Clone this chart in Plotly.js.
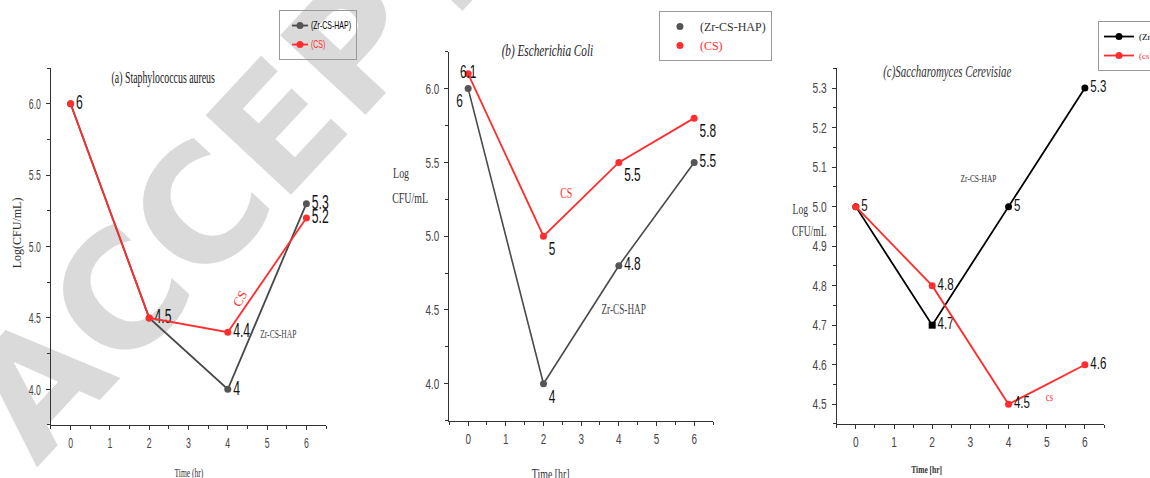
<!DOCTYPE html>
<html>
<head>
<meta charset="utf-8">
<script src="https://cdn.plot.ly/plotly-3.0.1.min.js"></script>
<style>
  html, body { margin: 0; padding: 0; background: #fff; }
  #chart { width: 1150px; height: 478px; }
</style>
</head>
<body>
<div id="chart"></div>
<script>
// Sampling times (hours)
const timeHr = [0, 2, 4, 6];

// (a) Staphylococcus aureus, log CFU/mL
const staphZr = [6, 4.5, 4, 5.3];
const staphCs = [6, 4.5, 4.4, 5.2];

// (b) Escherichia coli, log CFU/mL
const coliZr = [6, 4, 4.8, 5.5];
const coliCs = [6.1, 5, 5.5, 5.8];

// (c) Saccharomyces cerevisiae, log CFU/mL
const yeastZr = [5, 4.7, 5, 5.3];
const yeastCs = [5, 4.8, 4.5, 4.6];

// Points that carry a value label (a shared starting point is labelled once)
const staphZrLabelled = [true, true, true, true];
const staphCsLabelled = [false, false, true, true];
const coliZrLabelled = [true, true, true, true];
const coliCsLabelled = [true, true, true, true];
const yeastZrLabelled = [true, true, true, true];
const yeastCsLabelled = [false, true, true, true];

// Axis ticks
const timeTicks = [0, 1, 2, 3, 4, 5, 6];
const staphTicks = [4.0, 4.5, 5.0, 5.5, 6.0];
const coliTicks = [4.0, 4.5, 5.0, 5.5, 6.0];
const yeastTicks = [4.5, 4.6, 4.7, 4.8, 4.9, 5.0, 5.1, 5.2, 5.3];

// Series names
const nameZr = '(Zr-CS-HAP)';
const nameCsUpper = '(CS)';
const nameCsLower = '(cs)';

const SANS = '"Liberation Sans", Arial, sans-serif';
const SERIF = '"Liberation Serif", "Times New Roman", serif';
const RED = '#ff2d2d';

const labelsFor = (vals, shown) => vals.map((v, i) => (shown[i] ? String(v) : ''));

function xAxis(domain, anchor) {
  return {
    domain: domain, anchor: anchor, range: [-0.5, 6.5],
    tickmode: 'array', tickvals: timeTicks, ticktext: timeTicks.map(String),
    ticks: 'outside', ticklen: 4, tickwidth: 1, tickcolor: '#333',
    showline: true, linecolor: '#333', linewidth: 1,
    showgrid: false, zeroline: false,
    minor: { dtick: 0.5, tick0: 0, ticks: 'outside', ticklen: 3, tickcolor: '#333', showgrid: false },
    tickfont: { family: SANS, size: 15, color: '#444' },
    fixedrange: true
  };
}

function yAxis(domain, anchor, range, ticks, minorStep) {
  return {
    domain: domain, anchor: anchor, range: range,
    tickmode: 'array', tickvals: ticks, ticktext: ticks.map(v => v.toFixed(1)),
    ticks: 'outside', ticklen: 4, tickwidth: 1, tickcolor: '#333',
    showline: true, linecolor: '#333', linewidth: 1,
    showgrid: false, zeroline: false,
    minor: { dtick: minorStep, tick0: 0, ticks: 'outside', ticklen: 3, tickcolor: '#333', showgrid: false },
    tickfont: { family: SANS, size: 15, color: '#444' },
    ticklabelstandoff: 2,
    fixedrange: true
  };
}

const traces = [
  // ---- panel (a)
  {
    x: timeHr, y: staphZr, xaxis: 'x', yaxis: 'y', name: nameZr, legend: 'legend',
    mode: 'lines+markers+text', text: labelsFor(staphZr, staphZrLabelled), cliponaxis: false,
    textposition: 'middle right', textfont: { family: SANS, size: 21, color: '#111' },
    line: { color: '#484848', width: 1.8 }, marker: { color: '#555', size: 7 }
  },
  {
    x: timeHr, y: staphCs, xaxis: 'x', yaxis: 'y', name: '<span style="color:' + RED + '">' + nameCsUpper + '</span>', legend: 'legend',
    mode: 'lines+markers+text', text: labelsFor(staphCs, staphCsLabelled), cliponaxis: false,
    textposition: 'middle right', textfont: { family: SANS, size: 21, color: '#111' },
    line: { color: RED, width: 1.8 }, marker: { color: RED, size: 7 }
  },
  // ---- panel (b)
  {
    x: timeHr, y: coliZr, xaxis: 'x2', yaxis: 'y2', name: nameZr, showlegend: false,
    mode: 'lines+markers+text', text: labelsFor(coliZr, coliZrLabelled), cliponaxis: false,
    textposition: ['bottom left', 'bottom right', 'middle right', 'middle right'],
    textfont: { family: SANS, size: 18, color: '#111' },
    line: { color: '#4a4a4a', width: 1.6 }, marker: { color: '#555', size: 7 }
  },
  {
    x: timeHr, y: coliCs, xaxis: 'x2', yaxis: 'y2', name: nameCsUpper, showlegend: false,
    mode: 'lines+markers+text', text: labelsFor(coliCs, coliCsLabelled), cliponaxis: false,
    textposition: ['middle center', 'bottom right', 'bottom right', 'bottom right'],
    textfont: { family: SANS, size: 18, color: '#111' },
    line: { color: RED, width: 1.8 }, marker: { color: RED, size: 7 }
  },
  // legend entries for panel (b): symbol only
  {
    x: [null], y: [null], xaxis: 'x2', yaxis: 'y2', name: nameZr, legend: 'legend2',
    mode: 'markers', marker: { color: '#555', size: 7 }, hoverinfo: 'skip'
  },
  {
    x: [null], y: [null], xaxis: 'x2', yaxis: 'y2', name: '<span style="color:' + RED + '">' + nameCsUpper + '</span>', legend: 'legend2',
    mode: 'markers', marker: { color: RED, size: 7 }, hoverinfo: 'skip'
  },
  // ---- panel (c)
  {
    x: timeHr, y: yeastZr, xaxis: 'x3', yaxis: 'y3', name: nameZr, legend: 'legend3',
    mode: 'lines+markers+text', text: labelsFor(yeastZr, yeastZrLabelled), cliponaxis: false,
    textposition: 'middle right', textfont: { family: SANS, size: 17, color: '#111' },
    line: { color: '#000', width: 1.8 },
    marker: { color: '#000', size: 7, symbol: ['circle', 'square', 'circle', 'circle'] }
  },
  {
    x: timeHr, y: yeastCs, xaxis: 'x3', yaxis: 'y3', name: '<span style="color:' + RED + '">' + nameCsLower + '</span>', legend: 'legend3',
    mode: 'lines+markers+text', text: labelsFor(yeastCs, yeastCsLabelled), cliponaxis: false,
    textposition: 'middle right', textfont: { family: SANS, size: 17, color: '#111' },
    line: { color: RED, width: 1.8 }, marker: { color: RED, size: 7 }
  }
];

const legendBase = {
  xanchor: 'left', yanchor: 'top', bgcolor: 'rgba(255,255,255,0)',
  bordercolor: '#9a9a9a', borderwidth: 1, tracegroupgap: 0,
  itemclick: false, itemdoubleclick: false
};

const note = (text, x, y, xref, yref, font, extra) =>
  Object.assign({ text: text, x: x, y: y, xref: xref, yref: yref, showarrow: false,
                  xanchor: 'center', yanchor: 'middle', font: font }, extra || {});

const annotations = [
  // panel titles
  note('(a) Staphylococcus aureus', 0.1417, 0.837, 'paper', 'paper', { family: SERIF, size: 17, color: '#222' }),
  note('<i>(b) Escherichia Coli</i>', 0.4765, 0.895, 'paper', 'paper', { family: SERIF, size: 17, color: '#222' }),
  note('<i>(c)Saccharomyces Cerevisiae</i>', 0.8235, 0.849, 'paper', 'paper', { family: SERIF, size: 16, color: '#333' }),
  // axis titles
  note('Log(CFU/mL)', 0.0148, 0.512, 'paper', 'paper', { family: SERIF, size: 12, color: '#333' }, { textangle: -90 }),
  note('Time (hr)', 0.164, 0.011, 'paper', 'paper', { family: SERIF, size: 13, color: '#333' }),
  note('Log', 0.3493, 0.638, 'paper', 'paper', { family: SERIF, size: 15, color: '#333' }),
  note('CFU/mL', 0.3565, 0.586, 'paper', 'paper', { family: SERIF, size: 15, color: '#333' }),
  note('Time [hr]', 0.4783, 0.0084, 'paper', 'paper', { family: SERIF, size: 15, color: '#333' }),
  note('Log', 0.6959, 0.561, 'paper', 'paper', { family: SERIF, size: 14, color: '#333' }),
  note('CFU/mL', 0.7035, 0.515, 'paper', 'paper', { family: SERIF, size: 14, color: '#333' }),
  note('<b>Time [hr]</b>', 0.806, 0.019, 'paper', 'paper', { family: SERIF, size: 11, color: '#333' }),
  // series labels inside the plots
  note('CS', 4.31, 4.635, 'x', 'y', { family: SERIF, size: 13, color: RED }, { textangle: -62 }),
  note('Zr-CS-HAP', 5.28, 4.39, 'x', 'y', { family: SERIF, size: 13, color: '#444' }),
  note('CS', 2.61, 5.295, 'x2', 'y2', { family: SERIF, size: 15, color: RED }),
  note('Zr-CS-HAP', 4.15, 4.5, 'x2', 'y2', { family: SERIF, size: 14, color: '#444' }),
  note('Zr-CS-HAP', 3.2, 5.073, 'x3', 'y3', { family: SERIF, size: 11, color: '#333' }),
  note('cs', 5.06, 4.52, 'x3', 'y3', { family: SERIF, size: 13, color: RED })
];

// Faint diagonal "ACCEPTED" stamp drawn beneath the data
const stamp = {
  type: 'line', xref: 'paper', yref: 'paper', layer: 'below',
  x0: -0.0887, y0: -0.0858, x1: 0.6226, y1: 1.751,
  line: { color: 'rgba(0,0,0,0)', width: 0 },
  label: {
    text: 'ACCEPTED', textangle: 'auto', textposition: 'middle', yanchor: 'middle',
    font: { family: '"DejaVu Sans", sans-serif', size: 160, color: '#dadada', weight: 'bold' }
  }
};

const layout = {
  width: 1150, height: 478,
  margin: { l: 0, r: 0, t: 0, b: 0, autoexpand: false },
  paper_bgcolor: '#fff', plot_bgcolor: 'rgba(0,0,0,0)',
  showlegend: true,
  xaxis: xAxis([0.0443, 0.2835], 'y'),
  yaxis: yAxis([0.1109, 0.8577], 'x', [3.75, 6.25], staphTicks, 0.25),
  xaxis2: xAxis([0.3907, 0.62], 'y2'),
  yaxis2: yAxis([0.1199, 0.8918], 'x2', [3.75, 6.25], coliTicks, 0.25),
  xaxis3: xAxis([0.7276, 0.96], 'y3'),
  yaxis3: yAxis([0.113, 0.8571], 'x3', [4.45, 5.35], yeastTicks, 0.05),
  legend: Object.assign({}, legendBase, { x: 0.2426, y: 0.979, font: { family: SANS, size: 10, color: '#000' } }),
  legend2: Object.assign({}, legendBase, { x: 0.573, y: 0.977, font: { family: SERIF, size: 12, color: '#333' } }),
  legend3: Object.assign({}, legendBase, { x: 0.9548, y: 0.956, font: { family: SERIF, size: 9, color: '#000' } }),
  annotations: annotations,
  shapes: [stamp]
};

// Horizontal condensing of the upright chart texts (narrow figure lettering),
// each text keeps its anchor point; the factor differs slightly per panel.
function panelFactor(cx) {
  if (cx < 380) return 0.58;
  if (cx < 760) return 0.66;
  return 0.68;
}

function legendFactor(cx) {
  if (cx < 380) return 0.7;
  if (cx < 760) return 0.68;
  return 0.67;
}

const TEXT_SELECTOR = [
  '.xtick text', '.ytick text', '.x2tick text', '.y2tick text', '.x3tick text', '.y3tick text',
  '.textpoint text', '.annotation-text'
].join(', ');

function squeezeTransform(x, k) {
  return 'translate(' + x + ',0) scale(' + k + ',1) translate(' + (-x) + ',0)';
}

function condenseTexts(gd) {
  gd.querySelectorAll(TEXT_SELECTOR).forEach(t => {
    if (t.getAttribute('data-narrow') === '1') return;
    const g = t.closest('.annotation-text-g');
    if (g) {
      const tr = g.getAttribute('transform') || '';
      if (tr && !/rotate\(\s*-?0(\.0+)?\s*[,)]/.test(tr)) return;
    }
    const box = t.getBoundingClientRect();
    const k = panelFactor(box.left + box.width / 2);
    const x = parseFloat(t.getAttribute('x')) || 0;
    const prev = t.getAttribute('transform') || '';
    t.setAttribute('transform', (prev + ' ' + squeezeTransform(x, k)).trim());
    t.setAttribute('data-narrow', '1');
  });
}

// Compact legend entries: shorter symbol line, narrow lettering, frame fitted to the text.
const LEGEND_TEXT_X = 31;

function legendFrameOf(node) {
  let n = node.parentNode;
  while (n && n.querySelector) {
    const bg = n.querySelector(':scope > rect.bg');
    if (bg) return { group: n, bg: bg };
    n = n.parentNode;
  }
  return null;
}

function compactLegends(gd) {
  const frames = new Map();
  gd.querySelectorAll('text.legendtext').forEach(t => {
    const f = legendFrameOf(t);
    if (!f) return;
    if (!frames.has(f.bg)) frames.set(f.bg, { group: f.group, texts: [] });
    frames.get(f.bg).texts.push(t);
  });
  frames.forEach((info, bg) => {
    const bgBox = bg.getBoundingClientRect();
    const k = legendFactor(bgBox.left + 20);
    info.group.querySelectorAll('path.js-line').forEach(p => p.setAttribute('d', 'M12,0h16'));
    info.texts.forEach(t => {
      t.setAttribute('x', LEGEND_TEXT_X);
      t.querySelectorAll('tspan[x]').forEach(s => s.setAttribute('x', LEGEND_TEXT_X));
      t.setAttribute('transform', squeezeTransform(LEGEND_TEXT_X, k));
    });
    let right = bgBox.left;
    info.texts.forEach(t => { right = Math.max(right, t.getBoundingClientRect().right); });
    const w = Math.round(right - bgBox.left + 5);
    if (w > 20) bg.setAttribute('width', w);
  });
}

function finish(gd) {
  condenseTexts(gd);
  compactLegends(gd);
}

Plotly.newPlot('chart', traces, layout, { staticPlot: true, displayModeBar: false })
  .then(gd => {
    finish(gd);
    requestAnimationFrame(() => finish(gd));
    setTimeout(() => finish(gd), 30);
    setTimeout(() => finish(gd), 150);
  });
</script>
</body>
</html>
